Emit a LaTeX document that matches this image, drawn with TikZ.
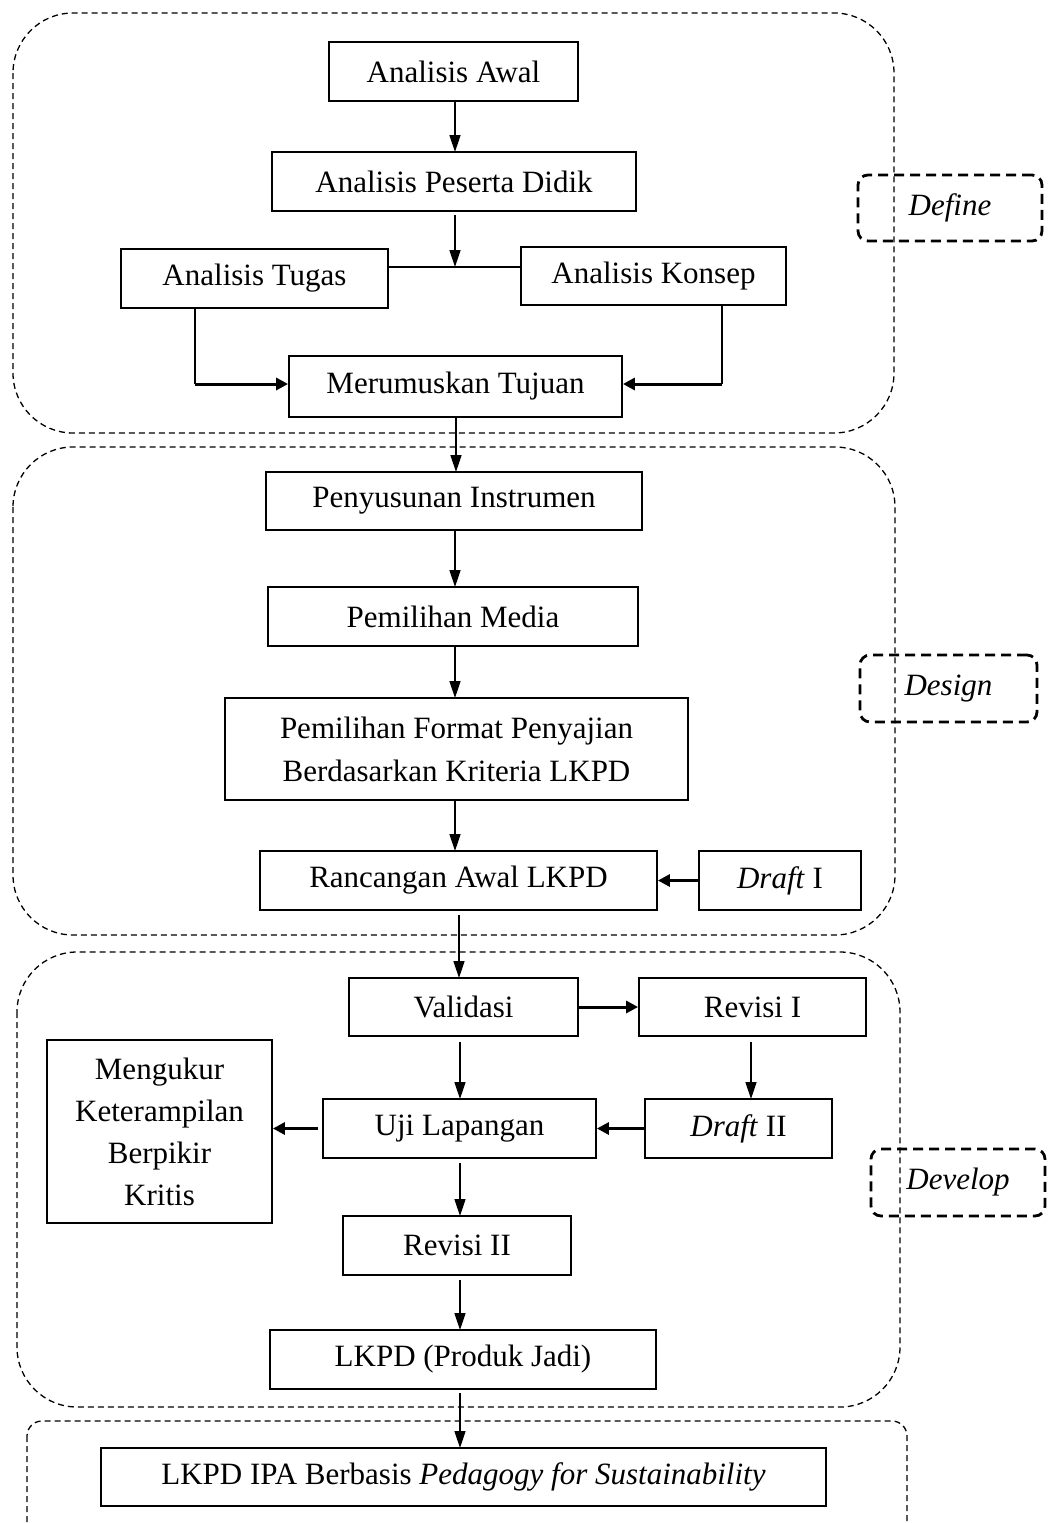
\documentclass[tikz,border=0pt]{standalone}
\usepackage{fontspec}
\setmainfont{Liberation Serif}
\usetikzlibrary{arrows.meta}
\begin{document}
\begin{tikzpicture}[x=1pt,y=-1pt,
  box/.style={draw,line width=1.8pt,inner sep=0pt,align=center,font=\fontsize{31}{43}\selectfont},
  region/.style={draw,line width=1.3pt,dash pattern=on 6pt off 4pt,rounded corners=60pt},
  lbl/.style={draw,line width=2.8pt,dash pattern=on 10pt off 6pt,rounded corners=10pt,inner sep=0pt,font=\fontsize{31}{43}\selectfont\itshape},
  arr/.style={line width=1.5pt,-{Triangle[length=17pt,width=11pt]}},
  tarr/.style={line width=3pt,-{Triangle[length=12pt,width=12pt]}},
  ln/.style={line width=1.5pt}]
\clip (0,0) rectangle (1051,1523);
\fill[white] (0,0) rectangle (1051,1523);
% regions
\draw[region] (13,13) rectangle (894,433);
\draw[region] (13,447) rectangle (895,935);
\draw[region] (17,952) rectangle (900,1407);
\draw[region,rounded corners=15pt] (27,1421) rectangle (907,1560);
% labels
\node[lbl,minimum width=184pt,minimum height=66pt] (ldefine) at (950,208) {Define};
\node[lbl,minimum width=177pt,minimum height=67pt] (ldesign) at (948.5,688.5) {Design};
\node[lbl,minimum width=174pt,minimum height=67pt] (ldevelop) at (958,1182.5) {Develop};
% define
\node[box,minimum width=249pt,minimum height=59pt] (awal) at (453.5,71.5) {Analisis Awal};
\node[box,minimum width=364pt,minimum height=59pt] (apd) at (454,181.5) {Analisis Peserta Didik};
\node[box,minimum width=267pt,minimum height=59pt] (tugas) at (254.5,278.5) {Analisis Tugas};
\node[box,minimum width=265pt,minimum height=58pt] (konsep) at (653.5,276) {Analisis Konsep};
\node[box,minimum width=333pt,minimum height=61pt] (tujuan) at (455.5,386.5) {Merumuskan Tujuan};
% design
\node[box,minimum width=376pt,minimum height=58pt] (penyusunan) at (454,501) {Penyusunan Instrumen};
\node[box,minimum width=370pt,minimum height=59pt] (media) at (453,616.5) {Pemilihan Media};
\node[box,minimum width=463pt,minimum height=102pt] (format) at (456.5,749) {Pemilihan Format Penyajian\\Berdasarkan Kriteria LKPD};
\node[box,minimum width=397pt,minimum height=59pt] (rancangan) at (458.5,880.5) {Rancangan Awal LKPD};
\node[box,minimum width=162pt,minimum height=59pt] (draft1) at (780,880.5) {\textit{Draft} I};
% develop
\node[box,minimum width=229pt,minimum height=58pt] (validasi) at (463.5,1007) {Validasi};
\node[box,minimum width=227pt,minimum height=58pt] (revisi1) at (752.5,1007) {Revisi I};
\node[box,minimum width=225pt,minimum height=183pt,font=\fontsize{31}{42}\selectfont] (mengukur) at (159.5,1131.5) {Mengukur\\Keterampilan\\Berpikir\\Kritis};
\node[box,minimum width=273pt,minimum height=59pt] (uji) at (459.5,1128.5) {Uji Lapangan};
\node[box,minimum width=187pt,minimum height=59pt] (draft2) at (738.5,1128.5) {\textit{Draft} II};
\node[box,minimum width=228pt,minimum height=59pt] (revisi2) at (457,1245.5) {Revisi II};
\node[box,minimum width=386pt,minimum height=59pt] (produk) at (463,1359.5) {LKPD (Produk Jadi)};
\node[box,minimum width=725pt,minimum height=58pt] (final) at (463.5,1477) {LKPD IPA Berbasis \textit{Pedagogy for Sustainability}};
% connectors define
\coordinate (J) at (455,267);
\draw[arr] (455,101) -- (455,152);
\draw[ln] (tugas.east |- J) -- (konsep.west |- J);
\draw[arr] (455,215) -- (J);
\coordinate (tl) at (195,384);
\coordinate (kr) at (722,384);
\draw[ln] (tugas.south -| tl) -- (tl);
\draw[tarr] (tl) -- (tujuan.west |- tl);
\draw[ln] (konsep.south -| kr) -- (kr);
\draw[tarr] (kr) -- (tujuan.east |- kr);
% connectors design
\draw[arr] (456,417) -- (456,472);
\draw[arr] (455,530) -- (455,587);
\draw[arr] (455,646) -- (455,698);
\draw[arr] (455,800) -- (455,851);
\draw[tarr] (draft1.west) -- (rancangan.east);
\draw[arr] (459,915) -- (459,978);
% connectors develop
\coordinate (um) at (318,1128.5);
\draw[tarr] (validasi.east) -- (revisi1.west);
\draw[arr] (460,1042) -- (460,1099);
\draw[arr] (751,1042) -- (751,1099);
\draw[tarr] (draft2.west) -- (uji.east);
\draw[tarr] (um) -- (mengukur.east |- um);
\draw[arr] (460,1163) -- (460,1216);
\draw[arr] (460,1280) -- (460,1330);
\draw[arr] (460,1393) -- (460,1448);
\end{tikzpicture}
\end{document}
